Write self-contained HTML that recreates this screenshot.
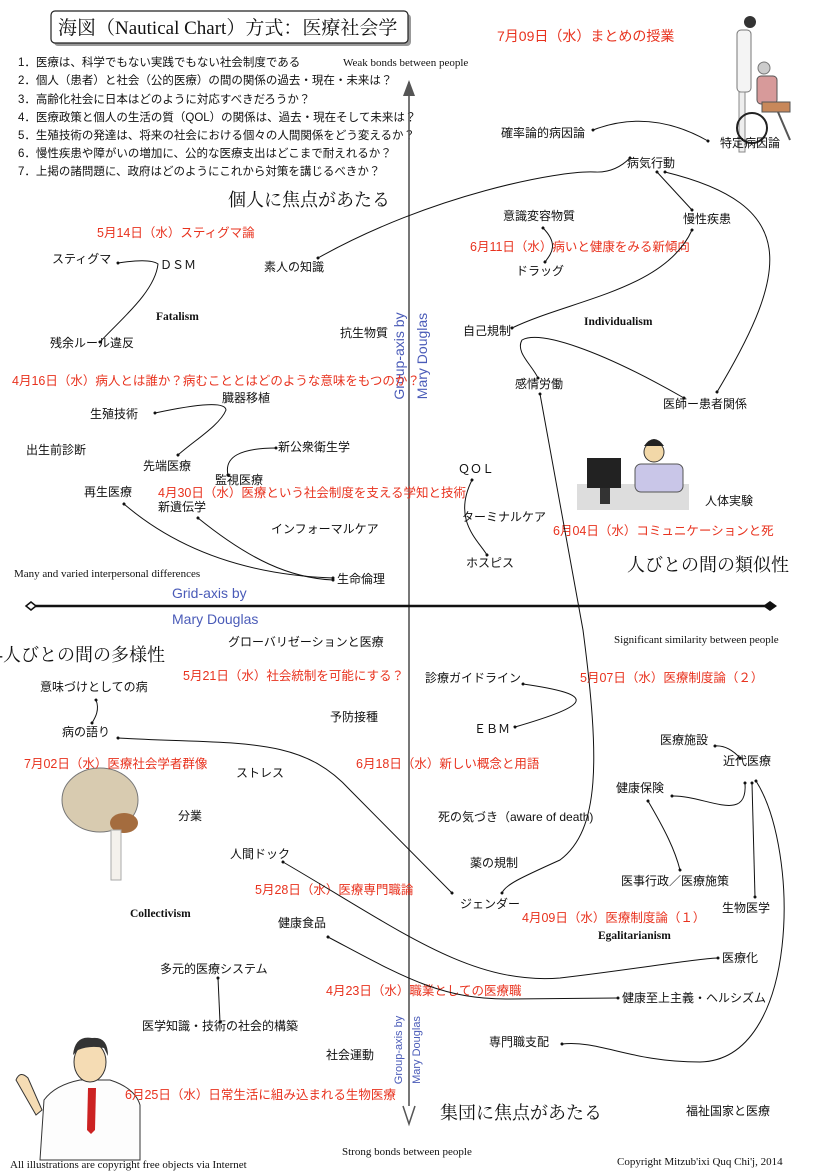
<!DOCTYPE html>
<html><head><meta charset="utf-8"><style>
html,body{margin:0;padding:0;background:#fff}
svg{display:block}
text{font-family:"Liberation Sans","Noto Sans CJK JP",sans-serif;font-size:12px;fill:#111}
.q{font-size:11.5px}
.r{fill:#e8321e;font-size:12.5px}
.s{font-family:"Liberation Serif","Noto Serif CJK SC",serif;font-size:11px}
.b{font-family:"Liberation Serif",serif;font-weight:bold;font-size:11.5px}
.big{font-family:"Liberation Serif","Noto Serif CJK SC",serif;font-size:18px}
.bl{fill:#4a5bb8;font-size:14px}
path.c{fill:none;stroke:#111;stroke-width:1}
</style></head><body>
<svg width="815" height="1172" viewBox="0 0 815 1172" xmlns="http://www.w3.org/2000/svg">
<defs><marker id="a" markerWidth="6" markerHeight="6" refX="3" refY="3" orient="auto"><circle cx="3" cy="3" r="1.5" fill="#111"/></marker></defs>
<!-- illustrations first -->
<g>
<circle cx="750" cy="22" r="6" fill="#333"/>
<rect x="737" y="30" width="14" height="62" rx="4" fill="#f4f4f4" stroke="#777"/>
<rect x="739" y="92" width="6" height="60" fill="#eee" stroke="#888"/>
<circle cx="764" cy="68" r="6" fill="#ccc" stroke="#777"/>
<rect x="757" y="76" width="20" height="28" rx="4" fill="#d79a9a" stroke="#555"/>
<rect x="762" y="102" width="28" height="10" fill="#c8885a" stroke="#555"/>
<circle cx="752" cy="128" r="15" fill="none" stroke="#222" stroke-width="2"/>
<path d="M778,112 L790,140" stroke="#555" stroke-width="2"/>
</g>
<g>
<rect x="577" y="484" width="112" height="26" fill="#ddd"/>
<rect x="587" y="458" width="34" height="30" fill="#222"/>
<rect x="600" y="488" width="10" height="16" fill="#333"/>
<circle cx="654" cy="452" r="10" fill="#f2d8a8" stroke="#333"/>
<path d="M644,446 Q654,432 664,446" fill="#222"/>
<rect x="635" y="464" width="48" height="28" rx="6" fill="#c9c6e8" stroke="#555"/>
</g>
<g>
<ellipse cx="100" cy="800" rx="38" ry="32" fill="#d8cbb0" stroke="#777"/>
<ellipse cx="124" cy="823" rx="14" ry="10" fill="#a46c3e"/>
<rect x="111" y="830" width="10" height="50" fill="#f4f1ec" stroke="#aaa"/>
</g>
<g>
<path d="M40,1160 L44,1100 Q55,1085 80,1080 L110,1080 Q135,1088 140,1105 L140,1160 Z" fill="#fdfdfd" stroke="#333"/>
<ellipse cx="90" cy="1062" rx="16" ry="20" fill="#f5dcb4" stroke="#333"/>
<path d="M73,1055 Q75,1035 92,1038 Q108,1036 108,1056 L104,1048 Q90,1045 78,1050 Z" fill="#333"/>
<path d="M88,1088 L96,1088 L95,1130 L91,1134 L87,1130 Z" fill="#c22"/>
<path d="M16,1080 Q20,1070 28,1078 L42,1110 L36,1115 Z" fill="#f5dcb4" stroke="#333"/>
</g>
<!-- title -->
<rect x="54" y="14" width="357" height="32" rx="4" fill="#999"/>
<rect x="51" y="11" width="357" height="32" rx="4" fill="#fff" stroke="#222" stroke-width="1.2"/>
<text x="58" y="34" style="font-family:'Liberation Serif','Noto Serif CJK SC',serif;font-size:19px">海図（Nautical Chart）方式：医療社会学</text>
<g>
<text class="q" x="18" y="66">1．医療は、科学でもない実践でもない社会制度である</text>
<text class="q" x="18" y="84">2．個人（患者）と社会（公的医療）の間の関係の過去・現在・未来は？</text>
<text class="q" x="18" y="103">3．高齢化社会に日本はどのように対応すべきだろうか？</text>
<text class="q" x="18" y="121">4．医療政策と個人の生活の質（QOL）の関係は、過去・現在そして未来は？</text>
<text class="q" x="18" y="139">5．生殖技術の発達は、将来の社会における個々の人間関係をどう変えるか？</text>
<text class="q" x="18" y="157">6．慢性疾患や障がいの増加に、公的な医療支出はどこまで耐えれるか？</text>
<text class="q" x="18" y="175">7．上掲の諸問題に、政府はどのようにこれから対策を講じるべきか？</text>
</g>
<text class="s" x="343" y="66">Weak bonds between people</text>
<!-- axes -->
<line x1="409" y1="82" x2="409" y2="1118" stroke="#555" stroke-width="1.6"/>
<path d="M403,96 L409,80 L415,96 Z" fill="#555"/>
<path d="M403,1106 L409,1124 L415,1106" fill="#fff" stroke="#555" stroke-width="1.5"/>
<line x1="32" y1="606" x2="770" y2="606" stroke="#111" stroke-width="2.6"/>
<path d="M26,606 L31,602 L36,606 L31,610 Z" fill="#fff" stroke="#111" stroke-width="1.5"/>
<path d="M763,606 L770,601 L777,606 L770,611 Z" fill="#111"/>
<text class="bl" transform="translate(404,356) rotate(-90)" text-anchor="middle">Group-axis by</text>
<text class="bl" transform="translate(427,356) rotate(-90)" text-anchor="middle">Mary Douglas</text>
<text class="bl" style="font-size:11px" transform="translate(402,1050) rotate(-90)" text-anchor="middle">Group-axis by</text>
<text class="bl" style="font-size:11px" transform="translate(420,1050) rotate(-90)" text-anchor="middle">Mary Douglas</text>
<text class="bl" x="172" y="598">Grid-axis by</text>
<text class="bl" x="172" y="624">Mary Douglas</text>
<!-- labels upper -->
<text class="r" x="497" y="41" style="font-size:14px">7月09日（水）まとめの授業</text>
<text x="501" y="137">確率論的病因論</text>
<text x="720" y="147">特定病因論</text>
<text x="627" y="167">病気行動</text>
<text class="big" x="228" y="206">個人に焦点があたる</text>
<text x="503" y="220">意識変容物質</text>
<text x="683" y="223">慢性疾患</text>
<text class="r" x="97" y="237">5月14日（水）スティグマ論</text>
<text class="r" x="470" y="251">6月11日（水）病いと健康をみる新傾向</text>
<text x="52" y="263">スティグマ</text>
<text x="160" y="269">ＤＳＭ</text>
<text x="264" y="271">素人の知識</text>
<text x="516" y="275">ドラッグ</text>
<text class="b" x="156" y="320">Fatalism</text>
<text class="b" x="584" y="325">Individualism</text>
<text x="340" y="337">抗生物質</text>
<text x="463" y="335">自己規制</text>
<text x="50" y="347">残余ルール違反</text>
<text class="r" x="12" y="385">4月16日（水）病人とは誰か？病むこととはどのような意味をもつのか？</text>
<text x="515" y="388">感情労働</text>
<text x="222" y="402">臓器移植</text>
<text x="663" y="408">医師ー患者関係</text>
<text x="90" y="418">生殖技術</text>
<text x="278" y="451">新公衆衛生学</text>
<text x="26" y="454">出生前診断</text>
<text x="143" y="470">先端医療</text>
<text x="458" y="473">ＱＯＬ</text>
<text x="215" y="484">監視医療</text>
<text x="84" y="496">再生医療</text>
<text class="r" x="158" y="497">4月30日（水）医療という社会制度を支える学知と技術</text>
<text x="705" y="505">人体実験</text>
<text x="158" y="511">新遺伝学</text>
<text x="462" y="521">ターミナルケア</text>
<text x="271" y="533">インフォーマルケア</text>
<text class="r" x="553" y="535">6月04日（水）コミュニケーションと死</text>
<text x="466" y="567">ホスピス</text>
<text class="big" x="627" y="571">人びとの間の類似性</text>
<text class="s" x="14" y="577">Many and varied interpersonal differences</text>
<text x="337" y="583">生命倫理</text>
<!-- lower -->
<text x="228" y="646">グローバリゼーションと医療</text>
<text class="s" x="614" y="643">Significant similarity between people</text>
<text class="big" x="-3" y="661">-人びとの間の多様性</text>
<text class="r" x="183" y="680">5月21日（水）社会統制を可能にする？</text>
<text x="425" y="682">診療ガイドライン</text>
<text class="r" x="580" y="682">5月07日（水）医療制度論（２）</text>
<text x="40" y="691">意味づけとしての病</text>
<text x="330" y="721">予防接種</text>
<text x="474" y="733">ＥＢＭ</text>
<text x="62" y="736">病の語り</text>
<text x="660" y="744">医療施設</text>
<text class="r" x="24" y="768">7月02日（水）医療社会学者群像</text>
<text class="r" x="356" y="768">6月18日（水）新しい概念と用語</text>
<text x="723" y="765">近代医療</text>
<text x="236" y="777">ストレス</text>
<text x="616" y="792">健康保険</text>
<text x="178" y="820">分業</text>
<text x="438" y="821">死の気づき（aware of death)</text>
<text x="230" y="858">人間ドック</text>
<text x="470" y="867">薬の規制</text>
<text x="621" y="885">医事行政／医療施策</text>
<text class="r" x="255" y="894">5月28日（水）医療専門職論</text>
<text x="460" y="908">ジェンダー</text>
<text x="722" y="912">生物医学</text>
<text class="b" x="130" y="917">Collectivism</text>
<text class="r" x="522" y="922">4月09日（水）医療制度論（１）</text>
<text x="278" y="927">健康食品</text>
<text class="b" x="598" y="939">Egalitarianism</text>
<text x="722" y="962">医療化</text>
<text x="160" y="973">多元的医療システム</text>
<text class="r" x="326" y="995">4月23日（水）職業としての医療職</text>
<text x="622" y="1002">健康至上主義・ヘルシズム</text>
<text x="142" y="1030">医学知識・技術の社会的構築</text>
<text x="489" y="1046">専門職支配</text>
<text x="326" y="1059">社会運動</text>
<text class="r" x="125" y="1099">6月25日（水）日常生活に組み込まれる生物医療</text>
<text class="big" x="440" y="1119">集団に焦点があたる</text>
<text x="686" y="1115">福祉国家と医療</text>
<text class="s" x="342" y="1155">Strong bonds between people</text>
<text class="s" x="10" y="1168">All illustrations are copyright free objects via Internet</text>
<text class="s" x="617" y="1165">Copyright Mitzub'ixi Quq Chi'j, 2014</text>
<!-- connectors -->
<g marker-start="url(#a)" marker-end="url(#a)">
<path class="c" d="M593,130 Q650,108 708,141"/>
<path class="c" d="M318,258 C430,195 560,170 595,172 Q615,173 630,158"/>
<path class="c" d="M657,172 L692,210"/>
<path class="c" d="M665,172 C800,205 790,270 717,392"/>
<path class="c" d="M692,230 C665,290 570,300 512,328"/>
<path class="c" d="M543,228 C560,245 550,255 545,262"/>
<path class="c" d="M684,398 C600,350 540,330 522,340 C515,352 532,365 538,378"/>
<path class="c" d="M540,394 L583,630 C600,760 600,830 560,860 C520,878 505,885 502,893"/>
<path class="c" d="M118,263 Q150,258 158,264 C155,292 120,320 100,342"/>
<path class="c" d="M155,413 Q225,398 226,410 C220,425 195,440 178,455"/>
<path class="c" d="M228,475 Q222,448 276,448"/>
<path class="c" d="M124,504 C180,552 250,575 333,578"/>
<path class="c" d="M198,518 C250,560 290,578 333,580"/>
<path class="c" d="M472,480 C452,520 478,540 487,555"/>
<path class="c" d="M96,700 C100,710 95,718 92,723"/>
<path class="c" d="M118,738 C240,745 300,735 350,790 L452,893"/>
<path class="c" d="M523,684 C600,695 590,705 515,727"/>
<path class="c" d="M715,746 Q728,745 740,758"/>
<path class="c" d="M745,783 C748,825 705,795 672,796"/>
<path class="c" d="M752,783 L755,897"/>
<path class="c" d="M756,781 C800,850 800,1060 700,1062 C630,1062 600,1040 562,1044"/>
<path class="c" d="M648,801 C665,830 675,850 680,870"/>
<path class="c" d="M283,862 C400,930 470,985 560,978 C630,970 700,958 718,958"/>
<path class="c" d="M328,937 C400,975 440,1000 510,999 L618,998"/>
<path class="c" d="M218,978 L220,1022"/>
</g>
</svg>
</body></html>
